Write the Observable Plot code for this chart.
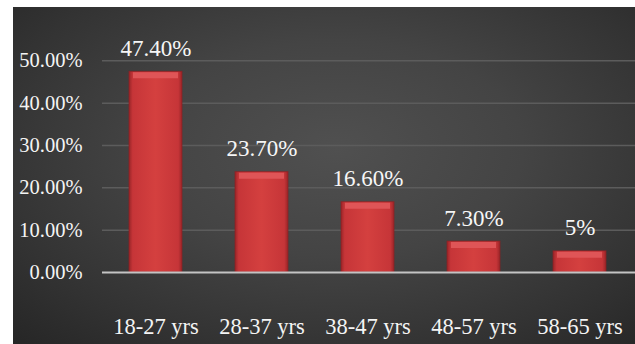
<!DOCTYPE html>
<html>
<head>
<meta charset="utf-8">
<script src="https://cdn.jsdelivr.net/npm/d3@7"></script>
<script src="https://cdn.jsdelivr.net/npm/@observablehq/plot@0.6"></script>
<style>
  html, body { margin: 0; padding: 0; background: #fff; }
  #wrap { position: absolute; left: 13px; top: 7px; width: 622px; height: 337px;
    background: radial-gradient(ellipse 75% 80% at 52% 42%, #505050 0%, #444 40%, #333 75%, #262626 100%); }
  #wrap svg { display: block; }
  #wrap svg text { font-family: "Liberation Serif", "Times New Roman", Times, serif !important; }
</style>
</head>
<body>
<div id="wrap"></div>
<script>
const categories = ["18-27 yrs", "28-37 yrs", "38-47 yrs", "48-57 yrs", "58-65 yrs"];
const shares = [47.4, 23.7, 16.6, 7.3, 5];
const valueLabels = ["47.40%", "23.70%", "16.60%", "7.30%", "5%"];
const yTicks = [0, 10, 20, 30, 40, 50];

const data = categories.map((c, i) => ({category: c, share: shares[i], label: valueLabels[i]}));

const chart = Plot.plot({
  width: 622,
  height: 337,
  marginLeft: 89,
  marginRight: 0,
  marginTop: 11,
  marginBottom: 72,
  style: {background: "transparent", color: "#f4f4f4", overflow: "visible"},
  x: {domain: categories, range: [89, 620], paddingInner: 0.5, paddingOuter: 0.25, label: null},
  y: {domain: [0, 60], label: null},
  marks: [
    Plot.ruleY(yTicks.filter(d => d > 0), {stroke: "#5c5c5c", strokeWidth: 1.5}),
    Plot.barY(data, {x: "category", y: "share", fill: "url(#barGrad)"}),
    Plot.barY(data, {x: "category", y: "share", fill: "none", stroke: "#8e2022", strokeWidth: 1, strokeOpacity: 0.7}),
    Plot.tickY(data, {x: "category", y: "share", stroke: "#df5557", strokeWidth: 6, dy: 3.5, inset: 4}),
    Plot.ruleY([0], {stroke: "#c4c4c4", strokeWidth: 2}),
    Plot.text(data, {x: "category", y: "share", text: "label", lineAnchor: "bottom", dy: -16, fill: "#f6f6f6", fontSize: 23}),
    Plot.axisY({ticks: yTicks, tickFormat: d => d.toFixed(2) + "%", tickSize: 0, tickPadding: 20, fontSize: 20.5, label: null}),
    Plot.axisX({tickSize: 0, tickPadding: 46, fontSize: 22.5, label: null})
  ]
});

const svg = d3.select(chart);
const defs = svg.insert("defs", ":first-child");
const g = defs.append("linearGradient").attr("id", "barGrad").attr("x1", 0).attr("x2", 1).attr("y1", 0).attr("y2", 0);
[[0, "#9a2528"], [0.07, "#c63538"], [0.5, "#d4403f"], [0.93, "#c63538"], [1, "#9a2528"]]
  .forEach(([o, c]) => g.append("stop").attr("offset", o).attr("stop-color", c));

document.getElementById("wrap").appendChild(chart);
</script>
</body>
</html>
